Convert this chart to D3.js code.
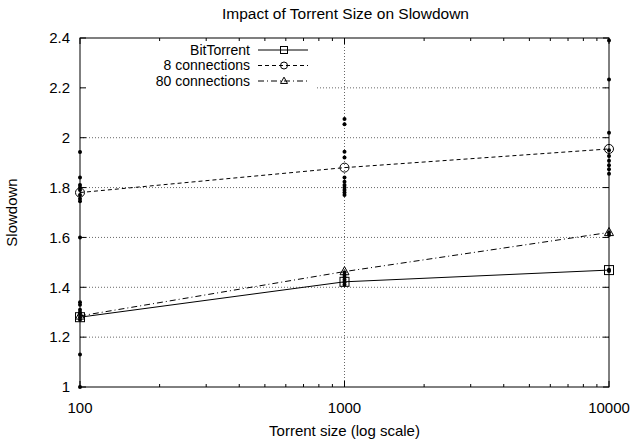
<!DOCTYPE html>
<html>
<head>
<meta charset="utf-8">
<script src="https://cdn.jsdelivr.net/npm/d3@7"></script>
<style>
  body { margin: 0; background: #fff; }
  svg { display: block; font-family: "Liberation Sans", Arial, sans-serif; }
</style>
</head>
<body>
<div id="chart"></div>
<script>
// Torrent size on log x axis, slowdown on y
const sizes = [100, 1000, 10000];
const bitTorrent = [1.28, 1.422, 1.469];
const conn8 = [1.78, 1.88, 1.955];
const conn80 = [1.285, 1.463, 1.62];
const seriesNames = ["BitTorrent", "8 connections", "80 connections"];

// individual runs (black dots)
const runs100 = [1.943, 1.84, 1.81, 1.80, 1.79, 1.77, 1.755, 1.745, 1.60,
                 1.34, 1.33, 1.31, 1.30, 1.29, 1.28, 1.27, 1.13, 1.00];
const runs1000 = [2.075, 2.054, 1.944, 1.921, 1.84, 1.823, 1.81, 1.80, 1.79, 1.78, 1.77,
                  1.46, 1.45, 1.44, 1.43, 1.42, 1.41];
const runs10000 = [2.39, 2.234, 2.02, 1.927, 1.908, 1.89, 1.873, 1.855, 1.95,
                   1.62, 1.61, 1.47, 1.465];

const yTicks = [1, 1.2, 1.4, 1.6, 1.8, 2, 2.2, 2.4];
const xTicks = [100, 1000, 10000];

const W = 633, H = 443;
const margin = {top: 38, right: 24, bottom: 56, left: 80};

const svg = d3.select("#chart").append("svg")
  .attr("width", W).attr("height", H);

const x = d3.scaleLog().domain([100, 10000]).range([margin.left, W - margin.right]);
const y = d3.scaleLinear().domain([1, 2.4]).range([H - margin.bottom, margin.top]);

const x0 = x.range()[0], x1 = x.range()[1];
const y0 = y.range()[0], y1 = y.range()[1];

// grid
svg.append("g").selectAll("line.hg")
  .data(yTicks.filter(d => d > 1 && d < 2.4))
  .join("line")
  .attr("x1", x0).attr("x2", x1)
  .attr("y1", d => y(d)).attr("y2", d => y(d))
  .attr("stroke", "#000").attr("stroke-width", 0.6)
  .attr("stroke-dasharray", "1,2");

svg.append("line")
  .attr("x1", x(1000)).attr("x2", x(1000))
  .attr("y1", y0).attr("y2", y1)
  .attr("stroke", "#000").attr("stroke-width", 0.6)
  .attr("stroke-dasharray", "1,2");

// legend background covers grid
svg.append("rect")
  .attr("x", x0 + 1).attr("y", y1 + 1)
  .attr("width", 235).attr("height", 50)
  .attr("fill", "#fff");

// frame
svg.append("rect")
  .attr("x", x0).attr("y", y1)
  .attr("width", x1 - x0).attr("height", y0 - y1)
  .attr("fill", "none").attr("stroke", "#000").attr("stroke-width", 1);

// ticks (inward, all four sides)
const tk = svg.append("g").attr("stroke", "#000").attr("stroke-width", 1);
yTicks.forEach(v => {
  tk.append("line").attr("x1", x0).attr("x2", x0 + 6).attr("y1", y(v)).attr("y2", y(v));
  tk.append("line").attr("x1", x1).attr("x2", x1 - 6).attr("y1", y(v)).attr("y2", y(v));
});
const minorX = [];
[100, 1000].forEach(b => { for (let k = 2; k <= 9; k++) minorX.push(b * k); });
xTicks.forEach(v => {
  tk.append("line").attr("x1", x(v)).attr("x2", x(v)).attr("y1", y0).attr("y2", y0 - 6);
  tk.append("line").attr("x1", x(v)).attr("x2", x(v)).attr("y1", y1).attr("y2", y1 + 6);
});
minorX.forEach(v => {
  tk.append("line").attr("x1", x(v)).attr("x2", x(v)).attr("y1", y0).attr("y2", y0 - 3);
  tk.append("line").attr("x1", x(v)).attr("x2", x(v)).attr("y1", y1).attr("y2", y1 + 3);
});

// tick labels
svg.append("g").selectAll("text")
  .data(yTicks).join("text")
  .attr("x", x0 - 10).attr("y", d => y(d))
  .attr("dy", "0.35em").attr("text-anchor", "end")
  .style("font-size", "15px")
  .text(d => d3.format("~g")(d));

svg.append("g").selectAll("text")
  .data(xTicks).join("text")
  .attr("x", d => x(d)).attr("y", y0 + 21)
  .attr("dy", "0.35em").attr("text-anchor", "middle")
  .style("font-size", "15px")
  .text(d => d);

// titles
svg.append("text")
  .attr("x", (x0 + x1) / 2 + 1).attr("y", 19)
  .attr("text-anchor", "middle").style("font-size", "15.5px")
  .text("Impact of Torrent Size on Slowdown");

svg.append("text")
  .attr("x", (x0 + x1) / 2).attr("y", 436)
  .attr("text-anchor", "middle").style("font-size", "15px")
  .text("Torrent size (log scale)");

svg.append("text")
  .attr("transform", `translate(17, ${(y0 + y1) / 2}) rotate(-90)`)
  .attr("text-anchor", "middle").style("font-size", "15px")
  .text("Slowdown");

// individual runs
const runs = [];
runs100.forEach(v => runs.push([100, v]));
runs1000.forEach(v => runs.push([1000, v]));
runs10000.forEach(v => runs.push([10000, v]));
svg.append("g").selectAll("circle")
  .data(runs).join("circle")
  .attr("cx", d => x(d[0])).attr("cy", d => y(d[1]))
  .attr("r", 2).attr("fill", "#000");

// series lines
const styles = [
  {vals: bitTorrent, dash: null, marker: "square"},
  {vals: conn8, dash: "4,3", marker: "circle"},
  {vals: conn80, dash: "6,3,1,3", marker: "triangle"}
];
const line = d3.line().x(d => x(d[0])).y(d => y(d[1]));

function drawMarker(g, kind, cx, cy, s) {
  if (kind === "square") {
    g.append("rect").attr("x", cx - s).attr("y", cy - s)
      .attr("width", 2 * s).attr("height", 2 * s)
      .attr("fill", "none").attr("stroke", "#000").attr("stroke-width", 1);
  } else if (kind === "circle") {
    g.append("circle").attr("cx", cx).attr("cy", cy).attr("r", s)
      .attr("fill", "none").attr("stroke", "#000").attr("stroke-width", 1);
  } else {
    g.append("path")
      .attr("d", `M${cx},${cy - s * 1.1}L${cx + s},${cy + s * 0.7}L${cx - s},${cy + s * 0.7}Z`)
      .attr("fill", "none").attr("stroke", "#000").attr("stroke-width", 1);
  }
}

const sg = svg.append("g");
styles.forEach(s => {
  const pts = sizes.map((v, i) => [v, s.vals[i]]);
  sg.append("path").datum(pts)
    .attr("d", line).attr("fill", "none")
    .attr("stroke", "#000").attr("stroke-width", 1)
    .attr("stroke-dasharray", s.dash);
  pts.forEach(p => drawMarker(sg, s.marker, x(p[0]), y(p[1]), 4.5));
});

// legend
const lg = svg.append("g");
seriesNames.forEach((name, i) => {
  const ly = 50 + i * 15.5;
  lg.append("text")
    .attr("x", 250).attr("y", ly).attr("dy", "0.35em")
    .attr("text-anchor", "end").style("font-size", "14px")
    .text(name);
  lg.append("line")
    .attr("x1", 258).attr("x2", 308).attr("y1", ly).attr("y2", ly)
    .attr("stroke", "#000").attr("stroke-width", 1)
    .attr("stroke-dasharray", styles[i].dash);
  drawMarker(lg, styles[i].marker, 284, ly, 3.5);
});
</script>
</body>
</html>
